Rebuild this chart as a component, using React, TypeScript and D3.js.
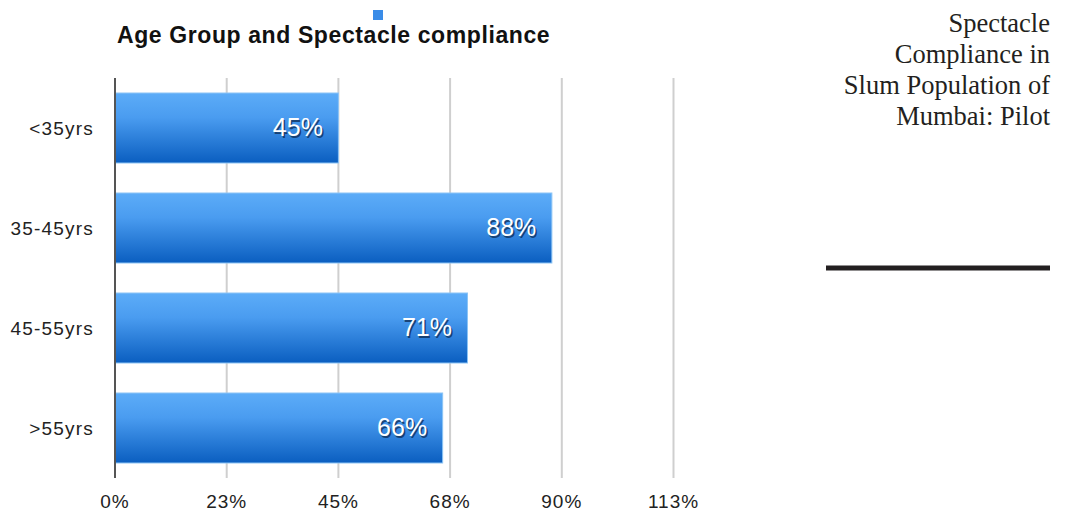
import React from "react";
import * as d3 from "d3";

const categories = ["<35yrs", "35-45yrs", "45-55yrs", ">55yrs"];
const values = [45, 88, 71, 66];
const tickValues = [0, 22.5, 45, 67.5, 90, 112.5];
const tickLabels = ["0%", "23%", "45%", "68%", "90%", "113%"];
const chartTitle = "Age Group and Spectacle compliance";
const sideTitle = ["Spectacle", "Compliance in", "Slum Population of", "Mumbai: Pilot"];

const W = 1067;
const H = 515;
const plot = { left: 115, right: 673.5, top: 78, bottom: 478 };

export default function App() {
  const x = d3.scaleLinear().domain([0, 112.5]).range([plot.left, plot.right]);
  const y = d3
    .scaleBand<string>()
    .domain(categories)
    .range([plot.top, plot.bottom])
    .paddingInner(0.3)
    .paddingOuter(0.15);

  return (
    <svg
      width={W}
      height={H}
      style={{ position: "absolute", left: 0, top: 0, background: "#fff" }}
    >
      <defs>
        <linearGradient id="barGrad" x1="0" y1="0" x2="0" y2="1">
          <stop offset="0" stopColor="#5cacf8" />
          <stop offset="0.35" stopColor="#4a9cf0" />
          <stop offset="1" stopColor="#0a5ec0" />
        </linearGradient>
      </defs>

      {/* title */}
      <text
        x={117}
        y={43}
        fontFamily="Liberation Sans, Arial, sans-serif"
        fontWeight="bold"
        fontSize={23}
        letterSpacing={0.6}
        fill="#111"
      >
        {chartTitle}
      </text>
      <rect x={373} y={10} width={10} height={10} fill="#3a8ce8" />

      {/* gridlines */}
      {tickValues.slice(1).map((t) => (
        <line
          key={"g" + t}
          x1={x(t)}
          x2={x(t)}
          y1={plot.top}
          y2={plot.bottom}
          stroke="#cfcfcf"
          strokeWidth={2}
        />
      ))}

      {/* bars */}
      {categories.map((c, i) => {
        const by = y(c) as number;
        const bw = y.bandwidth();
        const xe = x(values[i]);
        return (
          <g key={c}>
            <rect
              x={x(0)}
              y={by}
              width={xe - x(0)}
              height={bw}
              fill="url(#barGrad)"
              stroke="#8cc4f5"
              strokeWidth={1}
            />
            <text
              x={xe - 14}
              y={by + bw / 2 + 9.5}
              textAnchor="end"
              fontFamily="Liberation Sans, Arial, sans-serif"
              fontSize={25}
              fill="#10305a"
              opacity={0.8}
            >
              {values[i] + "%"}
            </text>
            <text
              x={xe - 15.5}
              y={by + bw / 2 + 8}
              textAnchor="end"
              fontFamily="Liberation Sans, Arial, sans-serif"
              fontSize={25}
              fill="#ffffff"
            >
              {values[i] + "%"}
            </text>
          </g>
        );
      })}

      {/* axis line */}
      <line
        x1={x(0)}
        x2={x(0)}
        y1={plot.top}
        y2={plot.bottom}
        stroke="#555"
        strokeWidth={2}
      />

      {/* category labels */}
      {categories.map((c) => (
        <text
          key={"l" + c}
          x={94}
          y={(y(c) as number) + y.bandwidth() / 2 + 7}
          textAnchor="end"
          fontFamily="Liberation Sans, Arial, sans-serif"
          fontSize={19}
          letterSpacing={1.2}
          fill="#222"
        >
          {c}
        </text>
      ))}

      {/* tick labels */}
      {tickValues.map((t, i) => (
        <text
          key={"t" + t}
          x={x(t)}
          y={508}
          textAnchor="middle"
          fontFamily="Liberation Sans, Arial, sans-serif"
          fontSize={19}
          letterSpacing={1}
          fill="#222"
        >
          {tickLabels[i]}
        </text>
      ))}

      {/* side title */}
      {sideTitle.map((s, i) => (
        <text
          key={"s" + i}
          x={1050}
          y={31.5 + i * 31.2}
          textAnchor="end"
          fontFamily="Liberation Serif, Times New Roman, serif"
          fontSize={26.5}
          fill="#231f20"
        >
          {s}
        </text>
      ))}
      <line x1={826} x2={1050} y1={268} y2={268} stroke="#231f20" strokeWidth={5} />
    </svg>
  );
}
